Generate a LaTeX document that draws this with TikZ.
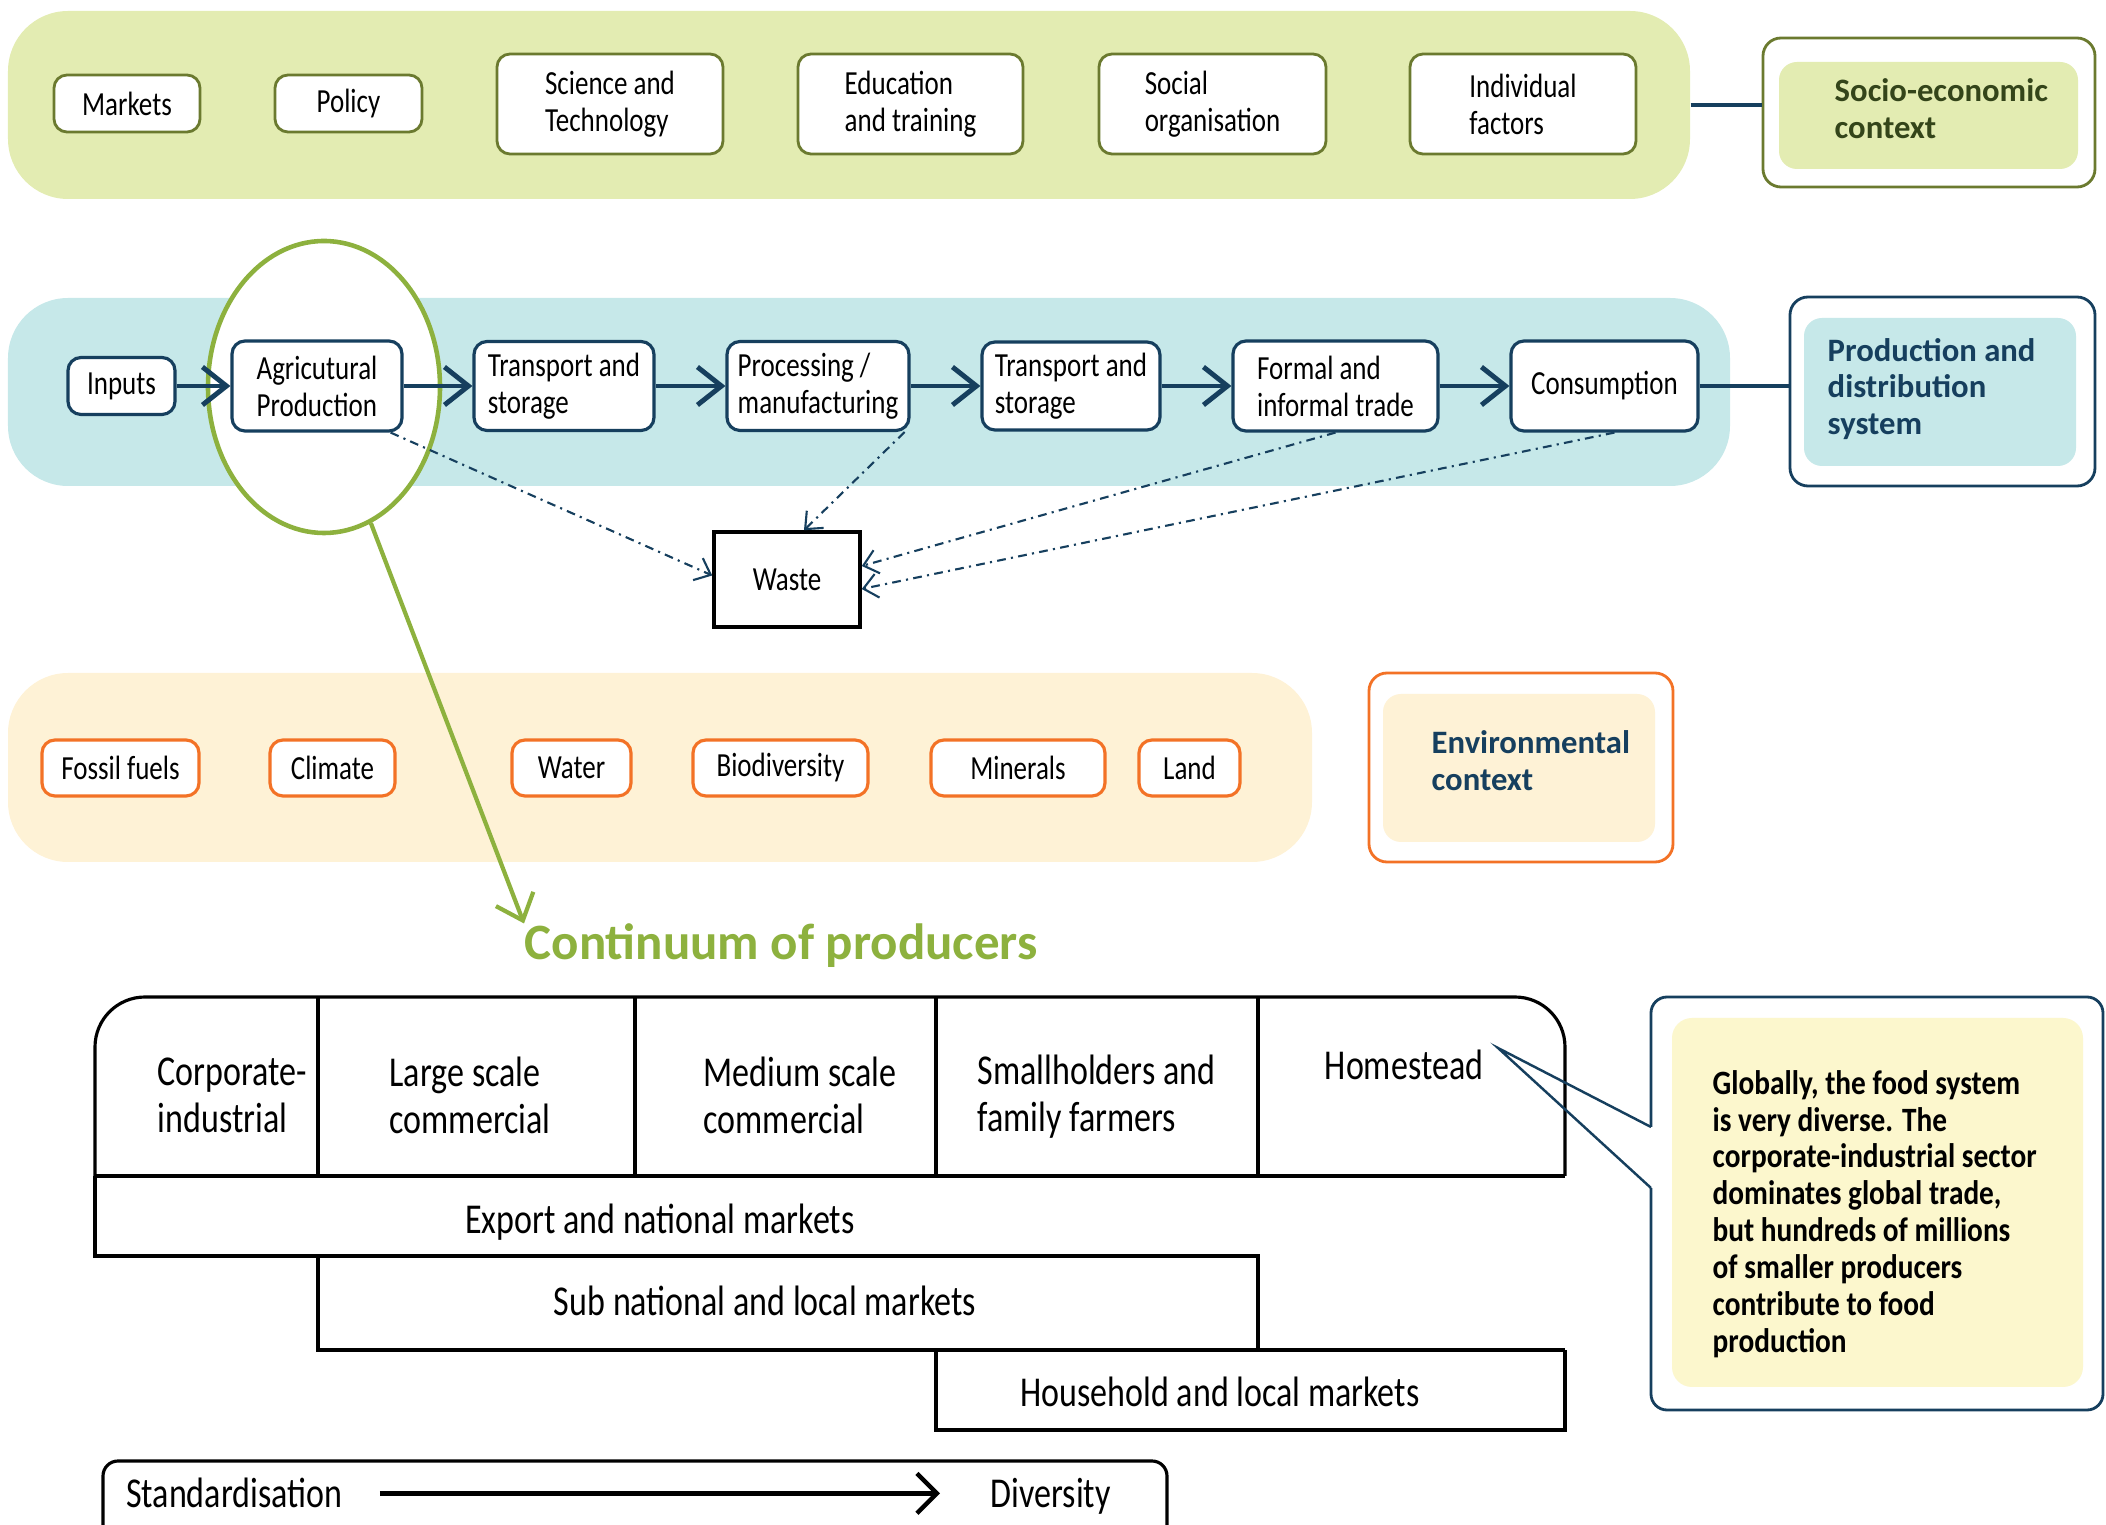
\documentclass[tikz,border=0pt]{standalone}
\usepackage{fontspec}
\setmainfont{Carlito}
\newfontfamily\narrowfont{Carlito}[FakeStretch=0.8]
\newfontfamily\notefont{Carlito}[FakeStretch=0.86]
\usetikzlibrary{arrows.meta,shapes.geometric}

\definecolor{socgreen}{HTML}{E3ECB2}
\definecolor{socolive}{HTML}{6B7A2F}
\definecolor{socdark}{HTML}{34451A}
\definecolor{navy}{HTML}{163F5E}
\definecolor{prodblue}{HTML}{C6E8E9}
\definecolor{envpeach}{HTML}{FEF2D6}
\definecolor{envorange}{HTML}{F37226}
\definecolor{leafgreen}{HTML}{8DB13E}
\definecolor{noteyellow}{HTML}{FCF7CD}

\tikzset{
  boxfont/.style={font=\narrowfont\fontsize{9.6}{10.5}\selectfont},
  cellfont/.style={font=\narrowfont\fontsize{12.1}{13.4}\selectfont},
  band/.style={rounded corners=6mm, inner sep=0pt},
  socbox/.style={boxfont, draw=socolive, line width=0.8pt, fill=white,
    rounded corners=1.3mm, inner sep=0pt, align=left},
  flowbox/.style={boxfont, draw=navy, line width=0.9pt, fill=white,
    rounded corners=1.3mm, inner sep=0pt, align=left},
  envbox/.style={boxfont, draw=envorange, line width=0.9pt, fill=white,
    rounded corners=1.3mm, inner sep=0pt},
  ctxframe/.style={fill=white, line width=0.8pt, rounded corners=1.8mm, inner sep=0pt},
  ctxfill/.style={rounded corners=1.8mm, inner sep=0pt},
  ctxhead/.style={font=\bfseries\fontsize{9.3}{10.5}\selectfont, align=left,
    inner sep=0pt, anchor=west},
  link/.style={navy, line width=1.4pt},
  flowarrow/.style={link, -{Straight Barb[length=2.4mm,width=3.8mm]}},
  wastearrow/.style={navy, line width=0.6pt,
    dash pattern=on 2.5pt off 1.5pt on 0.6pt off 1.5pt,
    -{Straight Barb[length=1.4mm,width=2.4mm]}},
  tableline/.style={line width=0.9pt},
  celltext/.style={cellfont, inner sep=0pt, align=left},
  title/.style={font=\bfseries\fontsize{14.5}{16}\selectfont, text=leafgreen, inner sep=0pt},
}

\begin{document}
\begin{tikzpicture}[x=1cm, y=-1cm]
  \useasboundingbox (0,0) rectangle (21.06,15.25);

  % socio-economic context
  \node[band, fill=socgreen, minimum width=16.82cm, minimum height=1.88cm] (socband) at (8.49,1.05) {};
  \node[socbox, minimum width=1.46cm, minimum height=0.57cm] (markets) at (1.27,1.035) {Markets};
  \node[socbox, minimum width=1.47cm, minimum height=0.57cm] (policy) at (3.485,1.035) {Policy};
  \node[socbox, minimum width=2.26cm, minimum height=1.00cm] (scitech) at (6.10,1.04) {Science and\\Technology};
  \node[socbox, minimum width=2.25cm, minimum height=1.00cm] (edu) at (9.105,1.04) {Education\\and training};
  \node[socbox, minimum width=2.27cm, minimum height=1.00cm] (social) at (12.125,1.04) {Social\\organisation};
  \node[socbox, minimum width=2.26cm, minimum height=1.00cm] (indiv) at (15.23,1.04) {Individual\\factors};

  \node[ctxframe, draw=socolive, minimum width=3.32cm, minimum height=1.49cm] (socframe) at (19.29,1.125) {};
  \node[ctxfill, fill=socgreen, minimum width=2.99cm, minimum height=1.07cm] (socfill) at (19.285,1.155) {};
  \node[ctxhead, text=socdark] (sochead) at (18.34,1.09) {Socio-economic\\context};
  \draw[link] (socband.east) -- (socband.east -| socframe.west);

  % production and distribution system
  \node[band, fill=prodblue, minimum width=17.22cm, minimum height=1.88cm] (prodband) at (8.69,3.92) {};
  \node[ellipse, draw=leafgreen, line width=1.3pt, fill=white, inner sep=0pt,
    minimum width=2.32cm, minimum height=2.92cm] (agriring) at (3.24,3.87) {};

  \node[flowbox, minimum width=1.07cm, minimum height=0.57cm] (inputs) at (1.215,3.86) {Inputs};
  \node[flowbox, minimum width=1.70cm, minimum height=0.90cm] (agri) at (3.17,3.86) {Agricutural\\Production};
  \node[flowbox, minimum width=1.80cm, minimum height=0.89cm] (trans1) at (5.64,3.86) {Transport and\\storage};
  \node[flowbox, minimum width=1.82cm, minimum height=0.89cm] (proc) at (8.18,3.86) {Processing /\\manufacturing};
  \node[flowbox, minimum width=1.78cm, minimum height=0.88cm] (trans2) at (10.71,3.86) {Transport and\\storage};
  \node[flowbox, minimum width=2.05cm, minimum height=0.90cm] (trade) at (13.355,3.86) {Formal and\\informal trade};
  \node[flowbox, minimum width=1.87cm, minimum height=0.90cm] (cons) at (16.045,3.86) {Consumption};

  \draw[flowarrow] (inputs) -- (agri);
  \draw[flowarrow] (agri) -- (trans1);
  \draw[flowarrow] (trans1) -- (proc);
  \draw[flowarrow] (proc) -- (trans2);
  \draw[flowarrow] (trans2) -- (trade);
  \draw[flowarrow] (trade) -- (cons);

  \node[ctxframe, draw=navy, minimum width=3.05cm, minimum height=1.89cm] (prodframe) at (19.425,3.915) {};
  \node[ctxfill, fill=prodblue, minimum width=2.72cm, minimum height=1.48cm] (prodfill) at (19.40,3.92) {};
  \node[ctxhead, text=navy] (prodhead) at (18.27,3.89) {Production and\\distribution\\system};
  \draw[link] (cons.east) -- (cons.east -| prodframe.west);

  % waste
  \node[boxfont, draw, line width=1pt, minimum width=1.46cm, minimum height=0.95cm] (waste) at (7.87,5.795) {Waste};
  \draw[wastearrow] ([xshift=-1.3mm]agri.south east) -- ([yshift=0.4mm]waste.west);
  \draw[wastearrow] ([xshift=-0.6mm]proc.south east) -- ([xshift=1.7mm]waste.north);
  \draw[wastearrow] (trade.south) -- ([yshift=1.35mm]waste.east);
  \draw[wastearrow] ([xshift=1mm]cons.south) -- ([yshift=-0.95mm]waste.east);

  % environmental context
  \node[band, fill=envpeach, minimum width=13.04cm, minimum height=1.89cm] (envband) at (6.60,7.675) {};
  \node[envbox, minimum width=1.57cm, minimum height=0.56cm] (fossil) at (1.205,7.68) {Fossil fuels};
  \node[envbox, minimum width=1.25cm, minimum height=0.56cm] (climate) at (3.325,7.68) {Climate};
  \node[envbox, minimum width=1.19cm, minimum height=0.56cm] (water) at (5.715,7.68) {Water};
  \node[envbox, minimum width=1.75cm, minimum height=0.56cm] (biodiv) at (7.805,7.68) {Biodiversity};
  \node[envbox, minimum width=1.74cm, minimum height=0.56cm] (minerals) at (10.18,7.68) {Minerals};
  \node[envbox, minimum width=1.01cm, minimum height=0.56cm] (land) at (11.895,7.68) {Land};

  \node[ctxframe, draw=envorange, minimum width=3.04cm, minimum height=1.89cm] (envframe) at (15.21,7.675) {};
  \node[ctxfill, fill=envpeach, minimum width=2.72cm, minimum height=1.48cm] (envfill) at (15.19,7.68) {};
  \node[ctxhead, text=navy] (envhead) at (14.31,7.61) {Environmental\\context};

  % continuum of producers
  \node[title, anchor=base west] (title) at (5.24,9.60) {Continuum of producers};
  \draw[leafgreen, line width=1.2pt, -{Straight Barb[length=2.3mm,width=4mm]}] (agriring.-71) -- (title.north west);

  \draw[tableline, rounded corners=5mm] (0.95,11.76) -- (0.95,9.97) -- (15.65,9.97) -- (15.65,11.76);
  \draw[tableline] (0.95,11.76) -- (15.65,11.76);
  \foreach \x in {3.18,6.35,9.36,12.58}
    \draw[tableline] (\x,9.97) -- (\x,11.76);
  \draw[tableline] (0.95,11.76) |- (12.58,12.56) -- (12.58,13.50);
  \draw[tableline] (3.18,12.56) |- (15.65,13.50);
  \draw[tableline] (9.36,13.50) |- (15.65,14.30) -- (15.65,13.50);

  \node[celltext, anchor=west] (corp) at (1.57,10.95) {Corporate-\\industrial};
  \node[celltext, anchor=west] (large) at (3.89,10.95) {Large scale\\commercial};
  \node[celltext, anchor=west] (medium) at (7.03,10.95) {Medium scale\\commercial};
  \node[celltext, anchor=west] (small) at (9.77,10.97) {Smallholders and\\family farmers};
  \node[celltext, anchor=base] (home) at (14.04,10.80) {Homestead};
  \node[celltext, anchor=base] (export) at (6.60,12.34) {Export and national markets};
  \node[celltext, anchor=base] (subnat) at (7.65,13.16) {Sub national and local markets};
  \node[celltext, anchor=base] (household) at (12.20,14.07) {Household and local markets};

  % callout
  \node[ctxframe, draw=navy, rounded corners=1.6mm, minimum width=4.52cm, minimum height=4.13cm] (noteframe) at (18.77,12.035) {};
  \node[ctxfill, fill=noteyellow, rounded corners=2mm, minimum width=4.11cm, minimum height=3.69cm] (notefill) at (18.775,12.025) {};
  \node[font=\notefont\bfseries\fontsize{9.7}{10.5}\selectfont, align=left, inner sep=0pt, anchor=west] (note) at (17.12,12.14)
    {Globally, the food system\\is very diverse. The\\corporate-industrial sector\\dominates global trade,\\but hundreds of millions\\of smaller producers\\contribute to food\\production};
  \coordinate (ptrtop) at (16.51,11.27);
  \coordinate (ptrbot) at (16.51,11.88);
  \coordinate (ptrtip) at (14.98,10.48);
  \draw[white, line width=2pt] (ptrtop) -- (ptrbot);
  \draw[navy, line width=0.7pt] (ptrtop) -- (ptrtip) -- (ptrbot);

  % standardisation to diversity
  \draw[tableline, rounded corners=1.5mm] (1.03,15.45) |- (11.67,14.61) -- (11.67,15.45);
  \node[celltext, anchor=base west] (std) at (1.255,15.08) {Standardisation};
  \node[celltext, anchor=base west] (div) at (9.90,15.08) {Diversity};
  \draw[line width=1.25pt, -{Straight Barb[length=2mm,width=4mm]}] ([xshift=3.7mm]std.east) -- ([xshift=-5mm]div.west |- std.east);
\end{tikzpicture}
\end{document}
